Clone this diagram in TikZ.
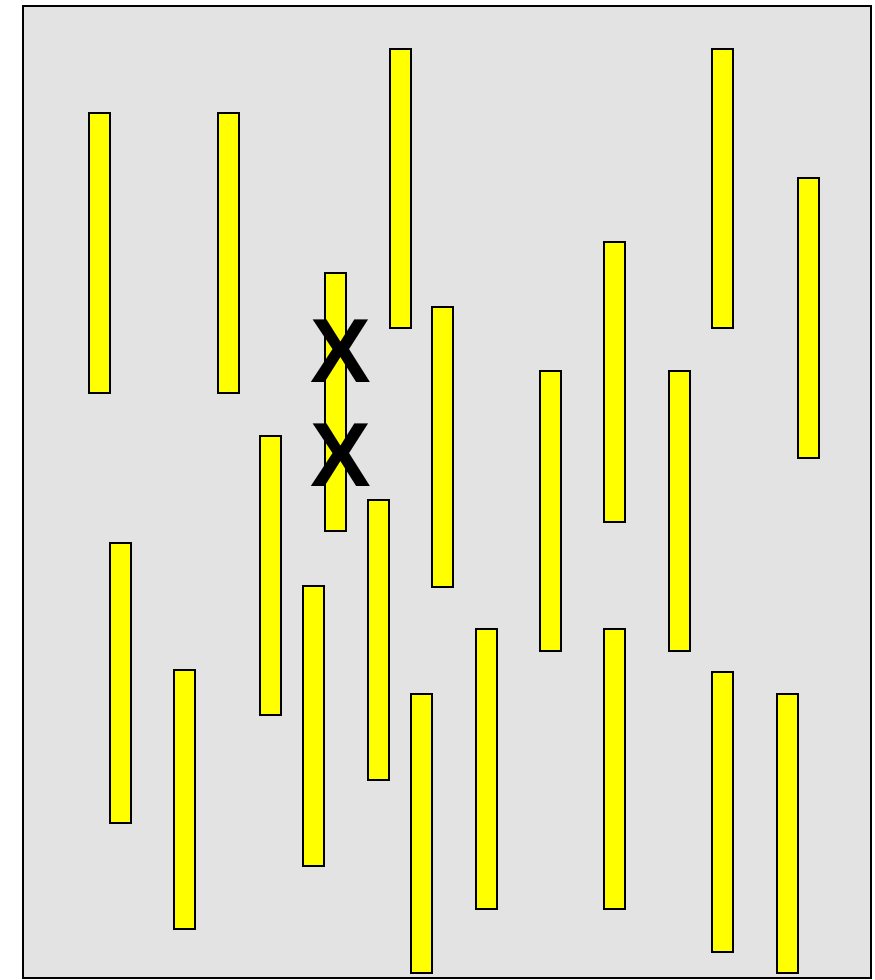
\documentclass[tikz,border=0pt]{standalone}
\usepackage{fontspec}
\setmainfont{Liberation Sans}
\definecolor{rodyellow}{RGB}{255,255,0}
\definecolor{fieldgray}{RGB}{227,227,227}
\begin{document}
\begin{tikzpicture}[x=1pt,y=-1pt,
    field/.style={draw=black, line width=2pt, fill=fieldgray},
    rod/.style={draw=black, line width=2pt, fill=rodyellow},
    xmark/.style={font=\fontsize{91}{91}\selectfont\bfseries, inner sep=0pt}]
    \useasboundingbox (0,0) rectangle (875,980);

    % Background field
    \draw[field] (23,6) rectangle (871,978);

    % Rods: left edge / top / bottom
    \foreach \l/\t/\b in {89/113/393, 218/113/393, 390/49/328, 712/49/328,
        798/178/458, 325/273/531, 432/307/587, 604/242/522, 540/371/651,
        669/371/651, 260/436/715, 368/500/780, 110/543/823, 174/670/929,
        303/586/866, 411/694/973, 476/629/909, 604/629/909, 712/672/952,
        777/694/973}
      \draw[rod] (\l,\t) rectangle ++(21,\b-\t);

    % Marks
    \node[xmark] (mark1) at (341,351) {X};
    \node[xmark] (mark2) at (341,455) {X};
\end{tikzpicture}
\end{document}
